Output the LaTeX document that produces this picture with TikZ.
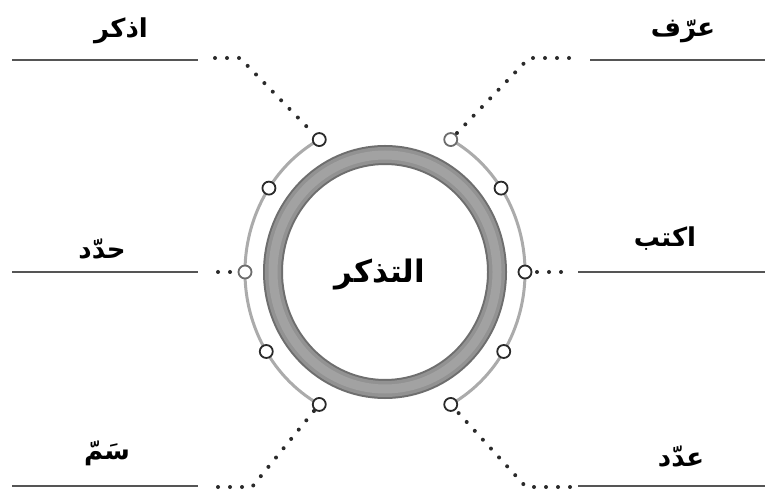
\documentclass[tikz,border=0pt]{standalone}
\usepackage{fontspec}
\newfontfamily\arabicfont[Script=Arabic]{DejaVu Sans}
\TeXXeTstate=1
\definecolor{ringdark}{HTML}{6E6E6E}
\definecolor{ringmid}{HTML}{929292}
\definecolor{ringlight}{HTML}{A2A2A2}
\definecolor{arcgray}{HTML}{ABABAB}
\definecolor{linegray}{HTML}{555555}
\definecolor{dotgray}{HTML}{2A2A2A}
\tikzset{
  uline/.style={draw=linegray, line width=1.3pt},
  arcline/.style={draw=arcgray, line width=3pt},
  dotc/.style={circle, draw=dotgray, fill=white, line width=1.8pt, minimum size=13pt, inner sep=0pt},
  dotcl/.style={dotc, draw=gray!85!black},
  dots/.style={draw=dotgray, line width=4pt, line cap=round, dash pattern=on 0pt off 12pt},
  lbl/.style={anchor=base, inner sep=0pt, font=\arabicfont\bfseries\fontsize{26}{30}\selectfont},
  mainlbl/.style={anchor=base, inner sep=0pt, font=\arabicfont\bfseries\fontsize{31}{35}\selectfont}
}
\begin{document}
\begin{tikzpicture}[x=1pt,y=1pt]
\useasboundingbox (0,0) rectangle (765,490);
\fill[white] (0,0) rectangle (765,490);
\coordinate (C) at (385,218);
% main ring
\fill[white] (C) ellipse [x radius=112, y radius=117];
\draw[ringdark, line width=20] (C) ellipse [x radius=112, y radius=117];
\draw[ringmid, line width=16] (C) ellipse [x radius=112, y radius=117];
\draw[ringlight, line width=9] (C) ellipse [x radius=112, y radius=117];
% outer arcs
\draw[arcline] ([shift={(62:140 and 150)}]C) arc[start angle=62, end angle=-62, x radius=140, y radius=150];
\draw[arcline] ([shift={(118:140 and 150)}]C) arc[start angle=118, end angle=242, x radius=140, y radius=150];
% small circles
\node[dotcl] (tr) at ([shift={(62:140 and 150)}]C) {};
\node[dotc] (r2) at ([shift={(34:140 and 150)}]C) {};
\node[dotc] (mr) at ([shift={(0:140 and 150)}]C) {};
\node[dotc] (r4) at ([shift={(-32:140 and 150)}]C) {};
\node[dotc] (br) at ([shift={(-62:140 and 150)}]C) {};
\node[dotc] (tl) at ([shift={(118:140 and 150)}]C) {};
\node[dotc] (l2) at ([shift={(146:140 and 150)}]C) {};
\node[dotcl] (ml) at ([shift={(180:140 and 150)}]C) {};
\node[dotc] (l4) at ([shift={(212:140 and 150)}]C) {};
\node[dotc] (bl) at ([shift={(242:140 and 150)}]C) {};
% dotted connectors
\coordinate (tlend) at (215,432); \coordinate (tlcor) at (240,432);
\coordinate (trend) at (569,432); \coordinate (trcor) at (529,432);
\coordinate (mlend) at (218,218);
\coordinate (mrend) at (561,218);
\coordinate (blend) at (218,3); \coordinate (blcor) at (252,3);
\coordinate (brend) at (570,3); \coordinate (brcor) at (526,3);
\draw[dots] (tlend) -- (tlcor) -- (tl);
\draw[dots] (trend) -- (trcor) -- (tr);
\draw[dots] (mlend) -- (ml);
\draw[dots] (mrend) -- (mr);
\draw[dots] (blend) -- (blcor) -- (bl);
\draw[dots] (brend) -- (brcor) -- (br);
% underlines
\draw[uline] (12,430) -- (198,430);
\draw[uline] (590,430) -- (765,430);
\draw[uline] (12,218) -- (198,218);
\draw[uline] (578,218) -- (765,218);
\draw[uline] (12,4) -- (198,4);
\draw[uline] (578,4) -- (765,4);
% labels
\node[lbl] (w1) at (121,452) {\beginR اذكر\endR};
\node[lbl] (w2) at (683,453) {\beginR عرّف\endR};
\node[lbl] (w3) at (102,231) {\beginR حدّد\endR};
\node[lbl] (w4) at (665,243) {\beginR اكتب\endR};
\node[lbl] (w5) at (107,31) {\beginR سَمّ\endR};
\node[lbl] (w6) at (681,24) {\beginR عدّد\endR};
\node[mainlbl] (main) at (380,207) {\beginR التذكر\endR};
\end{tikzpicture}
\end{document}
